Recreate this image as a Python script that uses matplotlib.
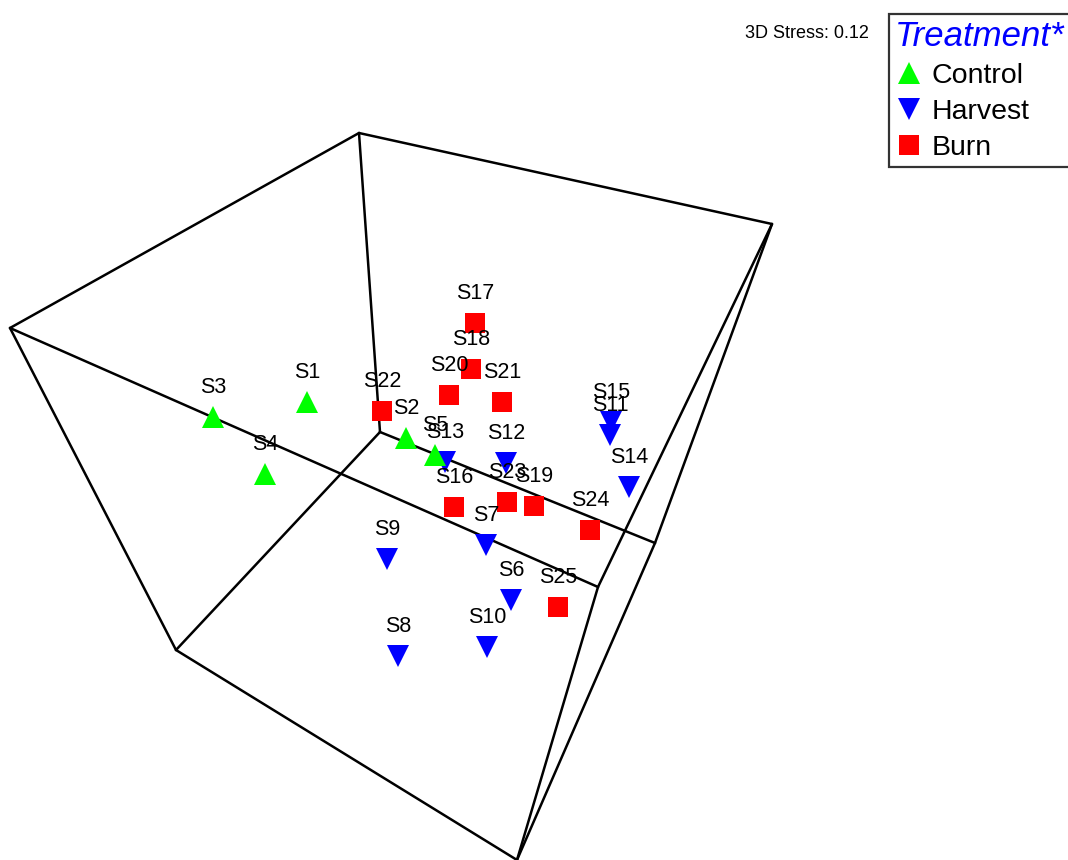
import matplotlib
matplotlib.use("Agg")
import matplotlib.pyplot as plt
from matplotlib.lines import Line2D

plt.rcParams['font.family'] = ['Liberation Sans', 'DejaVu Sans']

# Projected NMDS sample scores (screen plane of the 3D ordination)
control_names = ["S1", "S2", "S3", "S4", "S5"]
control_x = [307, 406, 213, 265, 435]
control_y = [402, 438, 417, 474, 455]

harvest_names = ["S6", "S7", "S8", "S9", "S10", "S11", "S12", "S13", "S14", "S15"]
harvest_x = [511, 486, 398, 387, 487, 610, 506, 445, 629, 611]
harvest_y = [600, 545, 656, 559, 647, 435, 463, 462, 487, 422]

burn_names = ["S16", "S17", "S18", "S19", "S20", "S21", "S22", "S23", "S24", "S25"]
burn_x = [454, 475, 471, 534, 449, 502, 382, 507, 590, 558]
burn_y = [507, 323, 369, 506, 395, 402, 411, 502, 530, 607]

# Projected corners of the ordination bounding box
box_x = [10, 359, 772, 598, 176, 380, 655, 517]
box_y = [328, 133, 224, 587, 650, 432, 543, 860]
box_edges = [(0, 1), (1, 2), (2, 3), (3, 0),
             (4, 5), (5, 6), (6, 7), (7, 4),
             (0, 4), (1, 5), (2, 6), (3, 7)]

stress_text = "3D Stress: 0.12"
legend_title = "Treatment*"

fig = plt.figure(figsize=(10.68, 8.60), dpi=100)
ax = fig.add_axes([0, 0, 1, 1])
ax.set_xlim(0, 1068)
ax.set_ylim(860, 0)
ax.axis('off')

for i, j in box_edges:
    ax.plot([box_x[i], box_x[j]], [box_y[i], box_y[j]], color='black',
            lw=1.8, solid_capstyle='round', zorder=1, clip_on=False)

groups = [
    ("Harvest", harvest_names, harvest_x, harvest_y, 'v', '#0000FF', 16),
    ("Control", control_names, control_x, control_y, '^', '#00FF00', 16),
    ("Burn", burn_names, burn_x, burn_y, 's', '#FF0000', 13.7),
]

for label, names, xs, ys, mk, col, ms in groups:
    ax.plot(xs, ys, linestyle='none', marker=mk, color=col, markersize=ms,
            markeredgewidth=0, zorder=3)

for label, names, xs, ys, mk, col, ms in groups:
    for n, x, y in zip(names, xs, ys):
        ax.annotate(n, (x, y), xytext=(0, 21.5), textcoords='offset points',
                    ha='center', va='center', fontsize=15.5, zorder=4)

fig.text(745 / 1068, 1 - 33 / 860, stress_text, fontsize=13,
         ha='left', va='center')

handles = [
    Line2D([], [], linestyle='none', marker='^', color='#00FF00', markersize=16,
           markeredgewidth=0, label='Control'),
    Line2D([], [], linestyle='none', marker='v', color='#0000FF', markersize=16,
           markeredgewidth=0, label='Harvest'),
    Line2D([], [], linestyle='none', marker='s', color='#FF0000', markersize=13.7,
           markeredgewidth=0, label='Burn'),
]
leg = fig.legend(handles=handles, loc='upper left',
                 bbox_to_anchor=(889 / 1068, 1 - 14 / 860),
                 borderaxespad=0, fontsize=20.5, title=legend_title,
                 title_fontproperties={'size': 25, 'style': 'italic'},
                 alignment='left', frameon=True, fancybox=False,
                 handlelength=1.0, handletextpad=0.3, borderpad=0.2,
                 labelspacing=0.36)
leg.get_title().set_color('#0000FF')
frame = leg.get_frame()
frame.set_edgecolor('black')
frame.set_linewidth(1.6)

fig.savefig("out.png", dpi=100)
